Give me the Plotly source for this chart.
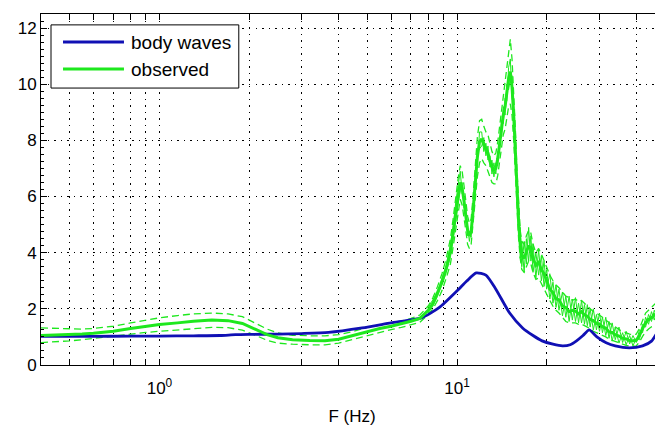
import numpy as np
import plotly.graph_objects as go

# body waves transfer function
freq_body = [0.4, 0.6, 0.8, 1.0, 1.3, 1.6, 1.8, 2.0, 2.5, 3.0, 3.7, 4.8, 6.0, 7.6, 8.7,
             10.0, 10.8, 11.6, 12.5, 13.5, 15.0, 16.6, 18.0, 19.3, 21.0, 22.6, 24.0,
             25.2, 26.5, 27.8, 29.5, 31.7, 34.0, 37.9, 42.0, 45.0, 47.9, 50.0]
amp_body = [1.02, 1.02, 1.03, 1.03, 1.04, 1.05, 1.08, 1.09, 1.10, 1.12, 1.16, 1.32, 1.50, 1.68, 2.04,
            2.64, 3.00, 3.28, 3.20, 2.70, 1.86, 1.32, 1.05, 0.86, 0.74, 0.68, 0.72,
            0.86, 1.05, 1.25, 1.00, 0.79, 0.68, 0.61, 0.68, 0.85, 1.30, 1.60]

# observed spectral ratio: mean and +/- std
freq_obs = [0.40, 0.45, 0.50, 0.55, 0.60, 0.70, 0.80, 0.90, 1.00, 1.15, 1.30, 1.50, 1.70, 1.90,
            2.10, 2.30, 2.50, 2.80, 3.20, 3.60, 4.00, 4.50, 5.00, 5.50, 6.00, 6.50, 7.00, 7.50,
            8.0, 8.3, 8.6, 8.9, 9.2, 9.5, 9.7, 9.9,
            10.1, 10.25, 10.4, 10.55, 10.7, 10.85, 11.0, 11.15, 11.3, 11.5, 11.7, 11.9,
            12.1, 12.3, 12.5, 12.7, 12.9, 13.1, 13.3, 13.5, 13.7, 13.9,
            14.1, 14.3, 14.5, 14.7, 14.9, 15.1, 15.3, 15.5, 15.7, 15.9,
            16.1, 16.3, 16.5, 16.8, 17.1, 17.4, 17.7,
            18.0, 18.4, 18.8, 19.2, 19.6,
            20.0, 20.5, 21.0, 21.5, 22.0, 22.6, 23.2, 23.8, 24.4,
            25.0, 25.6, 26.2, 26.8, 27.4, 28.0, 28.7, 29.4,
            30.1, 30.8, 31.6, 32.4, 33.2, 34.0, 35.0, 36.0, 37.0, 38.0, 39.0,
            40.0, 41.0, 42.0, 43.0, 44.0, 45.0, 46.0, 47.0, 48.0, 49.0, 50.0]
obs_mean = [1.05, 1.06, 1.08, 1.10, 1.13, 1.20, 1.30, 1.38, 1.44, 1.50, 1.56, 1.60, 1.58, 1.48,
            1.28, 1.08, 0.97, 0.90, 0.87, 0.86, 0.92, 1.06, 1.20, 1.30, 1.38, 1.46, 1.56, 1.66,
            1.95, 2.20, 2.55, 2.95, 3.45, 4.05, 4.70, 5.45,
            6.05, 6.50, 6.30, 5.85, 5.30, 4.80, 4.60, 4.75, 5.40, 6.40, 7.40, 7.95,
            8.05, 7.85, 7.70, 7.55, 7.25, 7.05, 6.95, 7.00, 7.35, 7.90,
            8.40, 8.90, 9.20, 9.70, 10.20, 10.45, 9.90, 8.90, 7.60, 6.20,
            5.10, 4.30, 3.90, 3.80, 4.05, 4.25, 4.15,
            3.80, 3.55, 3.65, 3.40, 3.25,
            3.00, 2.70, 2.58, 2.35, 2.32, 2.10, 2.05, 1.90, 1.95,
            1.92, 1.82, 1.90, 1.78, 1.74, 1.62, 1.58, 1.48,
            1.46, 1.36, 1.32, 1.18, 1.16, 1.08, 1.03, 0.95, 0.93, 0.87, 0.86,
            0.88, 1.05, 1.30, 1.50, 1.62, 1.68, 1.78, 1.85, 2.02, 2.20, 2.40]
obs_upper = [1.32, 1.30, 1.28, 1.28, 1.30, 1.38, 1.50, 1.60, 1.68, 1.76, 1.82, 1.85, 1.82, 1.72,
             1.50, 1.28, 1.14, 1.06, 1.04, 1.04, 1.08, 1.20, 1.34, 1.42, 1.48, 1.56, 1.66, 1.78,
             2.10, 2.40, 2.80, 3.25, 3.80, 4.50, 5.20, 6.00,
             6.70, 7.10, 6.90, 6.40, 5.80, 5.30, 5.05, 5.20, 5.90, 7.00, 8.10, 8.70,
             8.75, 8.50, 8.30, 8.20, 7.85, 7.60, 7.45, 7.55, 7.95, 8.50,
             9.05, 9.60, 10.00, 10.60, 11.20, 11.60, 10.90, 9.80, 8.40, 6.90,
             5.70, 4.80, 4.40, 4.30, 4.60, 4.80, 4.70,
             4.30, 4.00, 4.15, 3.95, 3.70,
             3.45, 3.20, 3.00, 2.85, 2.75, 2.60, 2.45, 2.40, 2.30,
             2.35, 2.25, 2.30, 2.20, 2.10, 2.00, 1.90, 1.85,
             1.78, 1.70, 1.60, 1.50, 1.42, 1.36, 1.26, 1.20, 1.14, 1.10, 1.08,
             1.10, 1.30, 1.60, 1.85, 1.95, 2.05, 2.12, 2.25, 2.40, 2.65, 2.90]
obs_lower = [0.80, 0.82, 0.86, 0.90, 0.95, 1.02, 1.10, 1.16, 1.20, 1.25, 1.30, 1.34, 1.33, 1.24,
             1.06, 0.88, 0.78, 0.74, 0.72, 0.72, 0.78, 0.92, 1.06, 1.16, 1.26, 1.34, 1.44, 1.52,
             1.80, 2.00, 2.30, 2.65, 3.10, 3.60, 4.20, 4.90,
             5.40, 5.90, 5.70, 5.30, 4.80, 4.30, 4.15, 4.30, 4.90, 5.80, 6.70, 7.20,
             7.35, 7.20, 7.10, 6.90, 6.65, 6.50, 6.45, 6.45, 6.75, 7.30,
             7.75, 8.20, 8.40, 8.80, 9.20, 9.30, 8.90, 8.00, 6.80, 5.50,
             4.50, 3.80, 3.40, 3.30, 3.50, 3.70, 3.60,
             3.30, 3.05, 3.10, 2.90, 2.70,
             2.55, 2.30, 2.10, 1.95, 1.85, 1.70, 1.55, 1.50, 1.50,
             1.50, 1.45, 1.46, 1.40, 1.34, 1.30, 1.20, 1.15,
             1.12, 1.06, 1.00, 0.92, 0.88, 0.84, 0.78, 0.74, 0.70, 0.68, 0.66,
             0.68, 0.82, 1.02, 1.18, 1.28, 1.36, 1.40, 1.48, 1.60, 1.78, 1.95]

# individual records above 8 Hz
freq_hi = freq_obs[28:]
obs_run1 = [2.05, 2.35, 2.60, 3.10, 3.55, 4.30, 4.90, 5.80,
            6.50, 6.90, 6.10, 6.00, 5.10, 4.95, 4.40, 4.90, 5.20, 6.70, 7.20, 8.30,
            8.30, 7.60, 7.90, 7.30, 7.45, 6.80, 7.20, 6.80, 7.60, 7.70,
            8.70, 8.60, 9.50, 9.40, 10.60, 10.90, 9.50, 9.20, 7.20, 6.60,
            4.60, 4.90, 3.50, 4.40, 3.60, 4.90, 3.70,
            4.30, 3.10, 4.10, 3.00, 3.70,
            2.70, 3.25, 2.20, 2.85, 1.95, 2.60, 1.70, 2.45, 1.60,
            2.40, 1.50, 2.30, 1.45, 2.15, 1.35, 2.00, 1.25,
            1.85, 1.15, 1.70, 0.95, 1.50, 0.90, 1.35, 0.80, 1.20, 0.75, 1.05,
            0.80, 1.25, 1.15, 1.70, 1.45, 1.90, 1.60, 2.05, 1.85, 2.45, 2.10]
obs_run2 = [1.85, 2.10, 2.45, 2.85, 3.30, 3.85, 4.55, 5.20,
            5.80, 6.20, 6.50, 5.60, 5.50, 4.60, 4.75, 4.55, 5.60, 6.10, 7.60, 7.70,
            7.80, 8.10, 7.45, 7.80, 7.05, 7.30, 6.70, 7.20, 7.10, 8.10,
            8.10, 9.20, 8.90, 10.00, 9.80, 10.20, 10.30, 8.60, 8.00, 5.80,
            5.60, 3.80, 4.40, 3.30, 4.50, 3.70, 4.60,
            3.30, 4.00, 3.20, 3.90, 2.80,
            3.40, 2.35, 2.95, 2.05, 2.70, 1.75, 2.45, 1.55, 2.35,
            1.55, 2.20, 1.50, 2.15, 1.40, 2.00, 1.25, 1.80,
            1.20, 1.70, 1.05, 1.55, 0.85, 1.35, 0.78, 1.15, 0.72, 1.05, 0.68,
            0.95, 0.90, 1.45, 1.35, 1.80, 1.55, 1.95, 1.70, 2.20, 2.00, 2.60]

x_ticks = [1, 10]
x_ticktext = ["10<sup>0</sup>", "10<sup>1</sup>"]
x_minor = [0.4, 0.5, 0.6, 0.7, 0.8, 0.9, 2, 3, 4, 5, 6, 7, 8, 9, 20, 30, 40, 50]
y_ticks = [0, 2, 4, 6, 8, 10, 12]
legend_names = ["body waves", "observed"]

green = "#1ee81e"
blue = "#1010b4"

fig = go.Figure()
for run in [obs_run1, obs_run2]:
    fig.add_trace(go.Scatter(x=freq_hi, y=run, mode="lines", showlegend=False,
                             line=dict(color=green, width=1)))
for bound in [obs_upper, obs_lower]:
    fig.add_trace(go.Scatter(x=freq_obs, y=bound, mode="lines", showlegend=False,
                             line=dict(color=green, width=1.3, dash="7px,4px")))
fig.add_trace(go.Scatter(x=freq_body, y=amp_body, mode="lines", name=legend_names[0],
                         showlegend=False,
                         line=dict(color=blue, width=2.8, shape="spline", smoothing=0.6)))
fig.add_trace(go.Scatter(x=freq_obs, y=obs_mean, mode="lines", name=legend_names[1],
                         showlegend=False, line=dict(color=green, width=3)))

# matlab style legend box (long line samples), drawn in paper coords
fig.add_shape(type="rect", xref="paper", yref="paper", x0=0.0161, x1=0.318, y0=0.789, y1=0.969,
              line=dict(color="black", width=1), fillcolor="white", layer="above")
for name, col, yy in zip(legend_names, [blue, green], [0.920, 0.843]):
    fig.add_shape(type="line", xref="paper", yref="paper", x0=0.0354, x1=0.1334, y0=yy, y1=yy,
                  line=dict(color=col, width=3), layer="above")
    fig.add_annotation(xref="paper", yref="paper", x=0.141, y=yy, text=name, showarrow=False,
                       xanchor="left", yanchor="middle", font=dict(size=19, color="black"))

axis_common = dict(showline=True, linecolor="black", linewidth=1, mirror="ticks",
                   ticks="inside", tickcolor="black", ticklen=6,
                   showgrid=True, gridcolor="black", gridwidth=1, griddash="1.5px,5px",
                   zeroline=False, tickfont=dict(size=17, color="black"))

fig.update_xaxes(type="log", range=[np.log10(0.4), np.log10(49.2)],
                 tickvals=x_ticks, ticktext=x_ticktext, ticklabelstandoff=8,
                 minor=dict(tickvals=x_minor, ticks="inside", ticklen=6, tickcolor="black",
                            showgrid=True, gridcolor="black", gridwidth=1, griddash="1.5px,5px"),
                 title=dict(text="F (Hz)", font=dict(size=17, color="black"), standoff=12),
                 **axis_common)
fig.update_yaxes(range=[0, 12.5], tickvals=y_ticks,
                 minor=dict(dtick=0.25, ticks="inside", ticklen=3, tickcolor="black"),
                 **axis_common)

# page body has an 8px margin, so the figure is shrunk to land on the same pixels
fig.update_layout(
    width=655, height=418,
    margin=dict(l=33, r=0, t=6, b=61),
    paper_bgcolor="white", plot_bgcolor="white",
    font=dict(family="Liberation Sans, Arial, sans-serif", size=17, color="black"),
    showlegend=False,
)

fig.write_html("out.html")
